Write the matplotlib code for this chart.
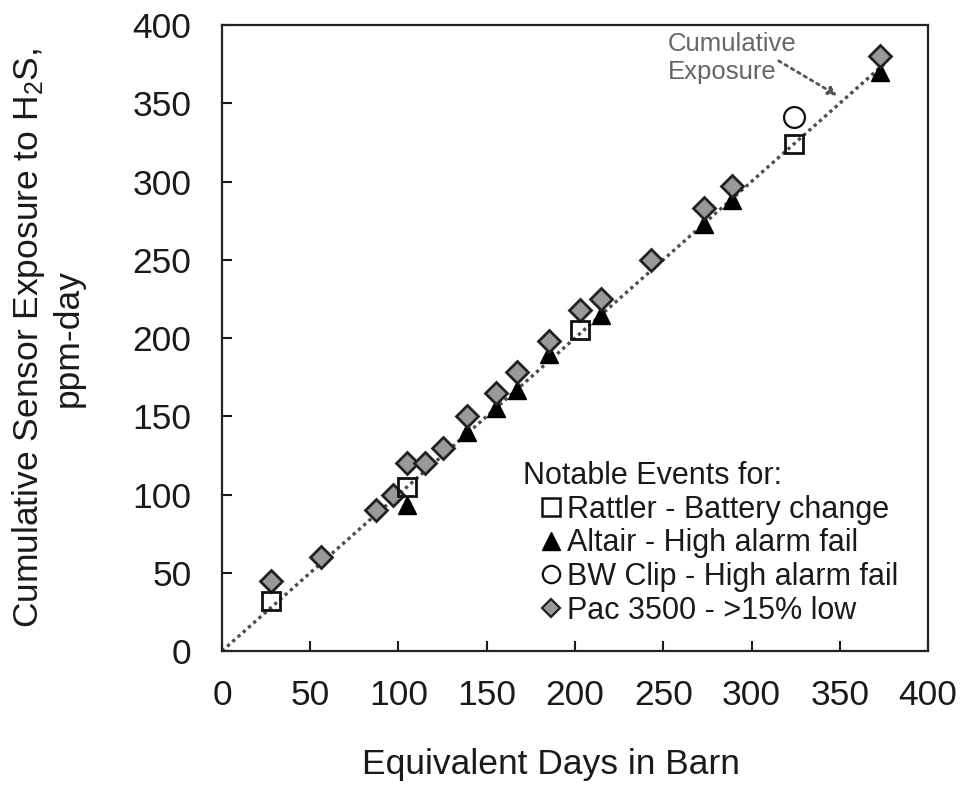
import matplotlib
matplotlib.use('Agg')
import matplotlib.pyplot as plt
from matplotlib.lines import Line2D

plt.rcParams['font.family'] = ['Liberation Sans', 'DejaVu Sans']
plt.rcParams['mathtext.fontset'] = 'custom'
plt.rcParams['mathtext.rm'] = 'Liberation Sans'
plt.rcParams['mathtext.it'] = 'Liberation Sans:italic'
plt.rcParams['axes.linewidth'] = 1.6

# data
line_x = [0, 375]
line_y = [0, 375]

pac_x = [28, 56, 87, 97, 105, 115, 125, 139, 155, 167, 185, 203, 215, 243, 273, 289, 373]
pac_y = [45, 60, 90, 100, 120, 120, 130, 150, 165, 178, 198, 218, 225, 250, 283, 297, 380]

altair_x = [105, 139, 155, 167, 185, 215, 273, 289, 373]
altair_y = [93, 140, 155, 167, 190, 215, 273, 288, 370]

rattler_x = [28, 105, 203, 324]
rattler_y = [32, 105, 205, 324]

bw_x = [324]
bw_y = [341]

ticks = [0, 50, 100, 150, 200, 250, 300, 350, 400]

txt = '#1a1a1a'
fig = plt.figure(figsize=(9.66, 7.87), dpi=100)
ax = fig.add_axes([0.2298, 0.1728, 0.7309, 0.7954])

ax.plot(line_x, line_y, color='#4d4d4d', linestyle=(0, (1, 1.1)), linewidth=2.4, zorder=2)
ax.plot(altair_x, altair_y, linestyle='none', marker='^', markersize=12.5,
        markerfacecolor='black', markeredgecolor='black', zorder=3)
ax.plot(pac_x, pac_y, linestyle='none', marker='D', markersize=11,
        markerfacecolor='#999999', markeredgecolor='#222222', markeredgewidth=2, zorder=4)
ax.plot(rattler_x, rattler_y, linestyle='none', marker='s', markersize=13,
        markerfacecolor='none', markeredgecolor='#111111', markeredgewidth=2, zorder=5)
ax.plot(bw_x, bw_y, linestyle='none', marker='o', markersize=15,
        markerfacecolor='none', markeredgecolor='#111111', markeredgewidth=1.6, zorder=5)

# annotation for the dotted line
ax.text(252.5, 379, 'Cumulative\nExposure', fontsize=18.5, color='#666666',
        ha='left', va='center', multialignment='left', linespacing=1.2)
ax.annotate('', xy=(350, 354), xytext=(314, 378),
            arrowprops=dict(arrowstyle='-|>', linestyle=':', color='#555555',
                            linewidth=2, mutation_scale=13))

ax.set_xlim(0, 400)
ax.set_ylim(0, 400)
ax.set_xticks(ticks)
ax.set_yticks(ticks)
ax.tick_params(direction='in', length=7, width=1.5, labelsize=25.5, colors=txt)
ax.tick_params(axis='x', pad=20)
ax.tick_params(axis='y', pad=22)
for s in ax.spines.values():
    s.set_color('#222222')

ax.set_xlabel('Equivalent Days in Barn', fontsize=25.5, color=txt, labelpad=28)
ax.xaxis.set_label_coords(0.466, -0.155)
ax.set_ylabel('Cumulative Sensor Exposure to H$_2$S,\nppm-day', fontsize=25.5,
              color=txt, labelpad=34)

handles = [
    Line2D([], [], linestyle='none', marker='s', markersize=12.5, markerfacecolor='none',
           markeredgecolor='#111111', markeredgewidth=1.8),
    Line2D([], [], linestyle='none', marker='^', markersize=12.5, markerfacecolor='black',
           markeredgecolor='black'),
    Line2D([], [], linestyle='none', marker='o', markersize=12.5, markerfacecolor='none',
           markeredgecolor='#111111', markeredgewidth=1.6),
    Line2D([], [], linestyle='none', marker='D', markersize=9, markerfacecolor='#999999',
           markeredgecolor='#222222', markeredgewidth=1.6),
]
labels = ['Rattler - Battery change', 'Altair - High alarm fail',
          'BW Clip - High alarm fail', 'Pac 3500 - >15% low']
leg = ax.legend(handles, labels, title='Notable Events for:', loc='lower left',
                bbox_to_anchor=(0.405, 0.016), frameon=False, fontsize=22,
                title_fontsize=22, handlelength=1.84, handletextpad=-0.4,
                labelspacing=0.12, borderpad=0, alignment='left')
for t in leg.get_texts():
    t.set_color(txt)
leg.get_title().set_color(txt)

fig.savefig('out.png', dpi=100)
